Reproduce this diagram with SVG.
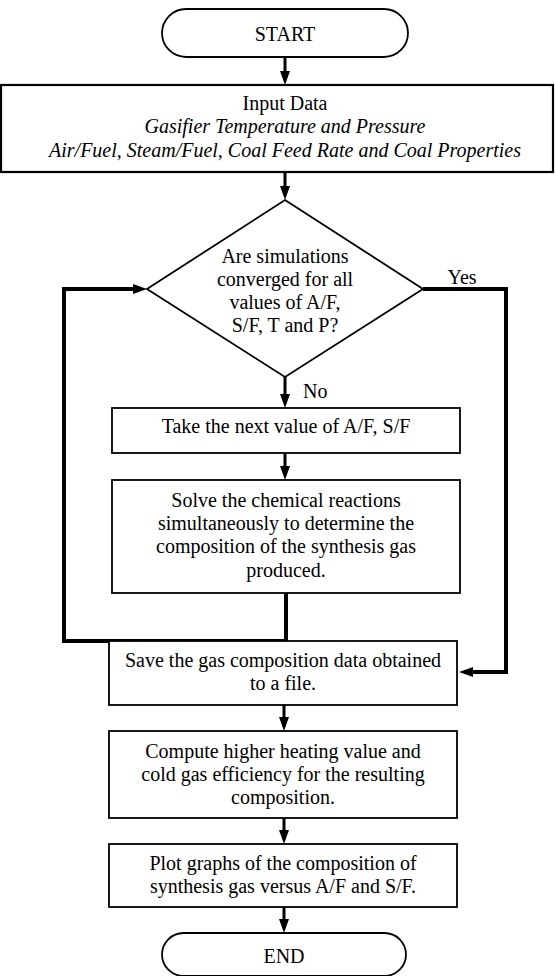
<svg xmlns="http://www.w3.org/2000/svg" width="555" height="976" viewBox="0 0 555 976">
<style>
  .box{fill:#fff;stroke:#000;stroke-width:1.8}
  .t{font-family:'Liberation Serif','Times New Roman',serif;font-size:20px;fill:#000;text-anchor:middle}
  .i{font-style:italic}
  .c{fill:none;stroke:#000;stroke-width:3}
  .loop{fill:none;stroke:#000;stroke-width:4;stroke-linejoin:miter}
</style>
<defs>
  <marker id="ah" viewBox="0 0 14 10" refX="4" refY="5" markerWidth="14" markerHeight="10" markerUnits="userSpaceOnUse" orient="auto">
    <path d="M0,0 L14,5 L0,10 z" fill="#000"/>
  </marker>
</defs>
<g id="connectors">
  <line class="c" x1="285" y1="57" x2="285" y2="75" marker-end="url(#ah)"/>
  <line class="c" x1="285" y1="172" x2="285" y2="190" marker-end="url(#ah)"/>
  <line class="c" x1="285" y1="377" x2="285" y2="398" marker-end="url(#ah)"/>
  <line class="c" x1="285" y1="453" x2="285" y2="470" marker-end="url(#ah)"/>
  <polyline class="loop" points="286,593 286,641 64,641 64,289 137,289" marker-end="url(#ah)"/>
  <polyline class="loop" points="423,289 506,289 506,672 469,672" marker-end="url(#ah)"/>
  <line class="c" x1="284" y1="705" x2="284" y2="721" marker-end="url(#ah)"/>
  <line class="c" x1="284" y1="818" x2="284" y2="834" marker-end="url(#ah)"/>
  <line class="c" x1="284" y1="907" x2="284" y2="923" marker-end="url(#ah)"/>
  <text class="t" x="462" y="284">Yes</text>
  <text class="t" x="303" y="398" style="text-anchor:start">No</text>
</g>
<g id="start">
  <rect class="box" x="162" y="9" width="246" height="48" rx="24" ry="24"/>
  <text class="t" x="285" y="41">START</text>
</g>
<g id="input">
  <rect class="box" x="1" y="85" width="552" height="87" style="stroke-width:2.2"/>
  <text class="t" x="285" y="110">Input Data</text>
  <text class="t i" x="285" y="133">Gasifier Temperature and Pressure</text>
  <text class="t i" x="285" y="157">Air/Fuel, Steam/Fuel, Coal Feed Rate and Coal Properties</text>
</g>
<g id="decision">
  <polygon class="box" points="285,200 423,289 285,377 147,289"/>
  <text class="t" x="285" y="263">Are simulations</text>
  <text class="t" x="285" y="286">converged for all</text>
  <text class="t" x="285" y="309">values of A/F,</text>
  <text class="t" x="285" y="332">S/F, T and P?</text>
</g>
<g id="next">
  <rect class="box" x="112" y="408" width="348" height="45"/>
  <text class="t" x="286" y="433">Take the next value of A/F, S/F</text>
</g>
<g id="solve">
  <rect class="box" x="112" y="480" width="348" height="113"/>
  <text class="t" x="286" y="507">Solve the chemical reactions</text>
  <text class="t" x="286" y="530">simultaneously to determine the</text>
  <text class="t" x="286" y="553">composition of the synthesis gas</text>
  <text class="t" x="286" y="577">produced.</text>
</g>
<g id="save">
  <rect class="box" x="109" y="641" width="348" height="64"/>
  <text class="t" x="283" y="667">Save the gas composition data obtained</text>
  <text class="t" x="283" y="690">to a file.</text>
</g>
<g id="compute">
  <rect class="box" x="109" y="731" width="348" height="87"/>
  <text class="t" x="283" y="758">Compute higher heating value and</text>
  <text class="t" x="283" y="781">cold gas efficiency for the resulting</text>
  <text class="t" x="283" y="804">composition.</text>
</g>
<g id="plot">
  <rect class="box" x="109" y="844" width="348" height="63"/>
  <text class="t" x="283" y="870">Plot graphs of the composition of</text>
  <text class="t" x="283" y="893">synthesis gas versus A/F and S/F.</text>
</g>
<g id="end">
  <rect class="box" x="162" y="933" width="244" height="43" rx="21.5" ry="21.5"/>
  <text class="t" x="284" y="963">END</text>
</g>
</svg>
